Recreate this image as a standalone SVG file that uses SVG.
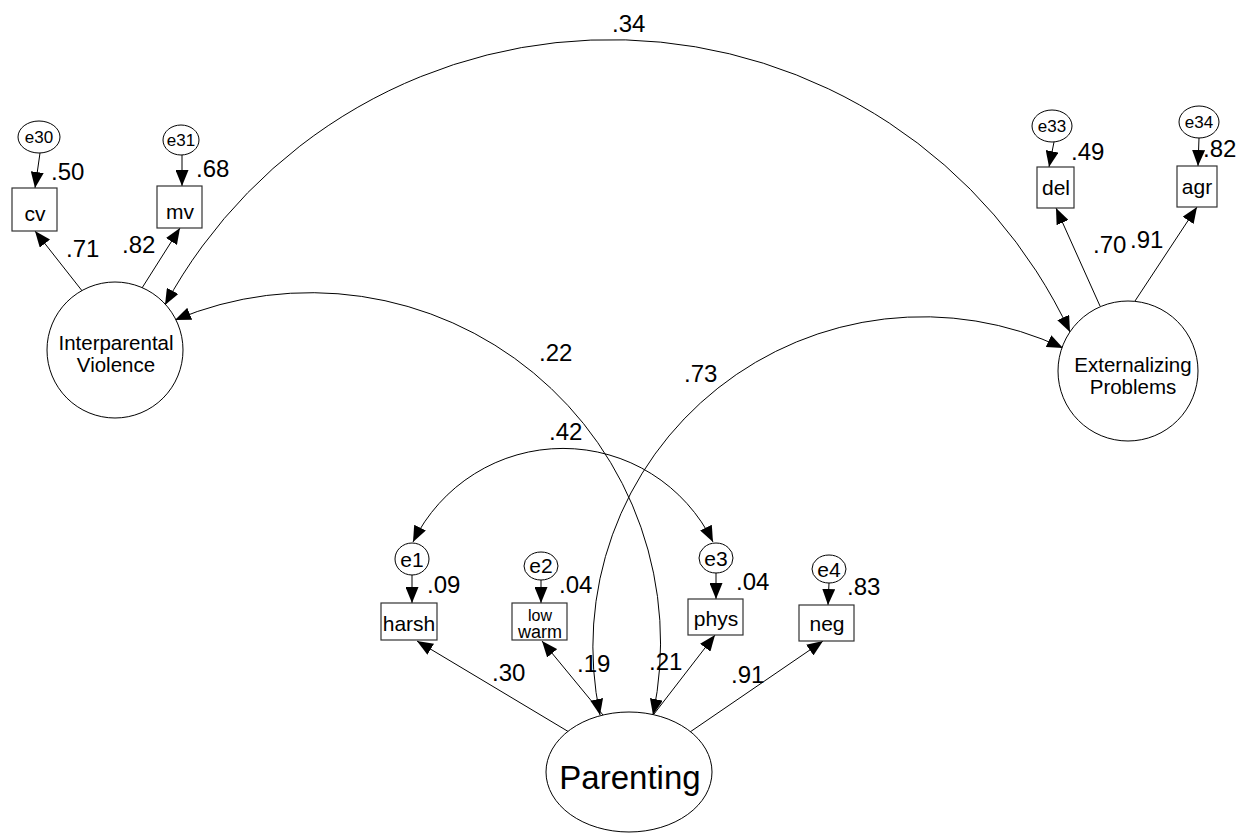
<svg xmlns="http://www.w3.org/2000/svg" width="1255" height="834" viewBox="0 0 1255 834">
<style>
.bg{fill:#fff}
.lat{fill:#fff;stroke:#000;stroke-width:1}
.box{fill:#fff;stroke:#333;stroke-width:1.2}
.err{fill:#fff;stroke:#000;stroke-width:1}
.c{fill:none;stroke:#000;stroke-width:1}
text{font-family:"Liberation Sans",Arial,sans-serif;fill:#000}
.coef{font-size:24px}
.ind{font-size:21px;text-anchor:middle}
.el{font-size:17px;text-anchor:middle}
.el2{font-size:21px;text-anchor:middle}
.ll{font-size:20.5px;text-anchor:middle}
</style>
<defs>
<marker id="ah" viewBox="0 0 16 13" refX="16" refY="6.5" markerWidth="16" markerHeight="13" markerUnits="userSpaceOnUse" orient="auto-start-reverse">
<path d="M0,0 L16,6.5 L0,13 z" fill="#000"/>
</marker>
</defs>
<rect class="bg" x="0" y="0" width="1255" height="834"/>
<g id="connectors">
<path class="c" d="M165,305 A507,507 0 0 1 1070,332" marker-start="url(#ah)" marker-end="url(#ah)"/>
<path class="c" d="M175,320 A350,350 0 0 1 653,715" marker-start="url(#ah)" marker-end="url(#ah)"/>
<path class="c" d="M1063,348 A330,330 0 0 0 600,715" marker-start="url(#ah)" marker-end="url(#ah)"/>
<path class="c" d="M413,542 A167,167 0 0 1 713,542" marker-start="url(#ah)" marker-end="url(#ah)"/>
<path class="c" d="M83,292 L35,231" marker-end="url(#ah)"/>
<path class="c" d="M142,288 L180,228" marker-end="url(#ah)"/>
<path class="c" d="M1100,306 L1056,208" marker-end="url(#ah)"/>
<path class="c" d="M1135,301 L1197,207" marker-end="url(#ah)"/>
<path class="c" d="M569,732 L417,641" marker-end="url(#ah)"/>
<path class="c" d="M603,715 L542,641" marker-end="url(#ah)"/>
<path class="c" d="M654,714 L715,635" marker-end="url(#ah)"/>
<path class="c" d="M690,732 L823,641" marker-end="url(#ah)"/>
<path class="c" d="M40,153 L35,188" marker-end="url(#ah)"/>
<path class="c" d="M182,155 L182,186" marker-end="url(#ah)"/>
<path class="c" d="M1054,142 L1049,167" marker-end="url(#ah)"/>
<path class="c" d="M1199,138 L1198,166" marker-end="url(#ah)"/>
<path class="c" d="M412,575 L412,603" marker-end="url(#ah)"/>
<path class="c" d="M541,580 L541,603" marker-end="url(#ah)"/>
<path class="c" d="M716,573 L716,599" marker-end="url(#ah)"/>
<path class="c" d="M829,583 L828,605" marker-end="url(#ah)"/>
</g>
<g id="coefficients">
<text class="coef" x="612" y="32">.34</text>
<text class="coef" x="539" y="361">.22</text>
<text class="coef" x="684" y="382">.73</text>
<text class="coef" x="549" y="440">.42</text>
<text class="coef" x="51" y="180">.50</text>
<text class="coef" x="196" y="177">.68</text>
<text class="coef" x="66" y="257">.71</text>
<text class="coef" x="122" y="253">.82</text>
<text class="coef" x="1071" y="160">.49</text>
<text class="coef" x="1203" y="157">.82</text>
<text class="coef" x="1093" y="253">.70</text>
<text class="coef" x="1130" y="248">.91</text>
<text class="coef" x="427" y="593">.09</text>
<text class="coef" x="559" y="593">.04</text>
<text class="coef" x="736" y="590">.04</text>
<text class="coef" x="847" y="595">.83</text>
<text class="coef" x="492" y="681">.30</text>
<text class="coef" x="577" y="672">.19</text>
<text class="coef" x="649" y="670">.21</text>
<text class="coef" x="731" y="683">.91</text>
</g>
<g id="IV"><circle class="lat" cx="115" cy="350" r="68"/><text class="ll" x="116" y="350">Interparental</text><text class="ll" x="116" y="372">Violence</text></g>
<g id="EP"><circle class="lat" cx="1128" cy="371" r="70"/><text class="ll" x="1133" y="372">Externalizing</text><text class="ll" x="1133" y="394">Problems</text></g>
<g id="Parenting"><ellipse class="lat" cx="629" cy="772" rx="83" ry="60"/><text x="630" y="789" style="font-size:33px;text-anchor:middle">Parenting</text></g>
<g id="cv"><rect class="box" x="12" y="188" width="45" height="43"/><text class="ind" x="35" y="221">cv</text></g>
<g id="mv"><rect class="box" x="157" y="186" width="45" height="42"/><text class="ind" x="180" y="219">mv</text></g>
<g id="del"><rect class="box" x="1037" y="167" width="37" height="41"/><text class="ind" x="1056" y="195">del</text></g>
<g id="agr"><rect class="box" x="1177" y="166" width="40" height="41"/><text class="ind" x="1197" y="194">agr</text></g>
<g id="harsh"><rect class="box" x="381" y="603" width="56" height="37"/><text class="ind" x="409" y="631">harsh</text></g>
<g id="lowwarm"><rect class="box" x="512" y="603" width="55" height="37"/><text x="540" y="621" style="font-size:16px;text-anchor:middle">low</text><text x="540" y="638" style="font-size:18px;text-anchor:middle">warm</text></g>
<g id="phys"><rect class="box" x="688" y="599" width="55" height="36"/><text class="ind" x="716" y="626">phys</text></g>
<g id="neg"><rect class="box" x="799" y="605" width="55" height="36"/><text class="ind" x="827" y="631">neg</text></g>
<g id="e30"><ellipse class="err" cx="39" cy="137" rx="21" ry="16"/><text class="el" x="39" y="143">e30</text></g>
<g id="e31"><ellipse class="err" cx="181" cy="140" rx="18" ry="15"/><text class="el" x="181" y="146">e31</text></g>
<g id="e33"><ellipse class="err" cx="1052" cy="126" rx="20" ry="16"/><text class="el" x="1052" y="132">e33</text></g>
<g id="e34"><ellipse class="err" cx="1199" cy="122" rx="20" ry="16"/><text class="el" x="1199" y="128">e34</text></g>
<g id="e1"><ellipse class="err" cx="412" cy="559" rx="17" ry="16"/><text class="el2" x="412" y="567">e1</text></g>
<g id="e2"><ellipse class="err" cx="541" cy="566" rx="17" ry="14"/><text class="el2" x="541" y="573">e2</text></g>
<g id="e3"><ellipse class="err" cx="716" cy="558" rx="17" ry="15"/><text class="el2" x="716" y="566">e3</text></g>
<g id="e4"><ellipse class="err" cx="829" cy="569" rx="17" ry="14"/><text class="el2" x="829" y="577">e4</text></g>
</svg>
